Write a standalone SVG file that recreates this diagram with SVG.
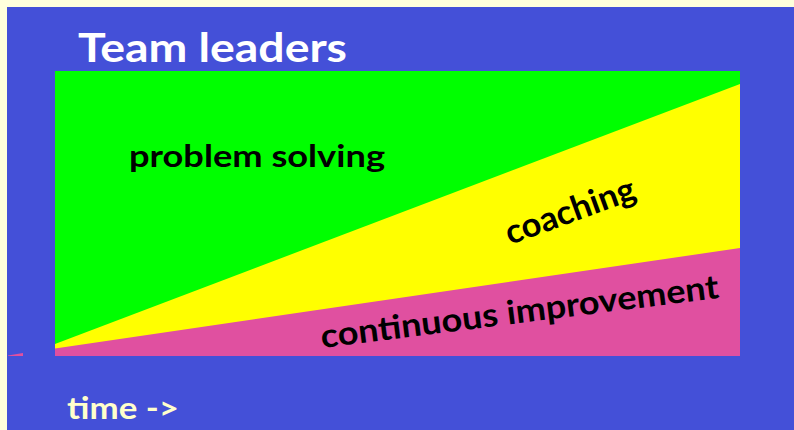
<svg xmlns="http://www.w3.org/2000/svg" width="794" height="430" viewBox="0 0 794 430">
<style>
.t{font-family:Lato,"Open Sans","Liberation Sans",sans-serif;font-weight:bold}
.dark{fill:#000000}
</style>
<rect x="0" y="0" width="794" height="430" fill="#FFFFDC"/>
<rect x="7" y="7" width="787" height="423" fill="#4450D8"/>
<g id="chart">
<rect x="55" y="71" width="685" height="285" fill="#00FF00"/>
<polygon points="55,344 740,84 740,356 55,356" fill="#FFFF00"/>
<polygon points="55,348.5 740,248 740,356 55,356" fill="#E050A0"/>
<polygon points="8,355.5 23,353 23,356 8,356" fill="#E050A0"/>
</g>
<g id="labels">
<text class="t" x="78" y="62" font-size="41" fill="#FFFFFF" textLength="269" lengthAdjust="spacingAndGlyphs">Team leaders</text>
<text class="t dark" x="129" y="167" font-size="31" textLength="256" lengthAdjust="spacingAndGlyphs">problem solving</text>
<text class="t dark" transform="translate(510,245) rotate(-20)" x="0" y="0" font-size="34" textLength="136" lengthAdjust="spacingAndGlyphs">coaching</text>
<text class="t dark" transform="translate(322,348) rotate(-7.2)" x="0" y="0" font-size="33" textLength="401" lengthAdjust="spacingAndGlyphs">continuous improvement</text>
<text class="t" x="67" y="419" font-size="30" fill="#FFFFCC" textLength="112" lengthAdjust="spacingAndGlyphs">time -&gt;</text>
</g>
</svg>
